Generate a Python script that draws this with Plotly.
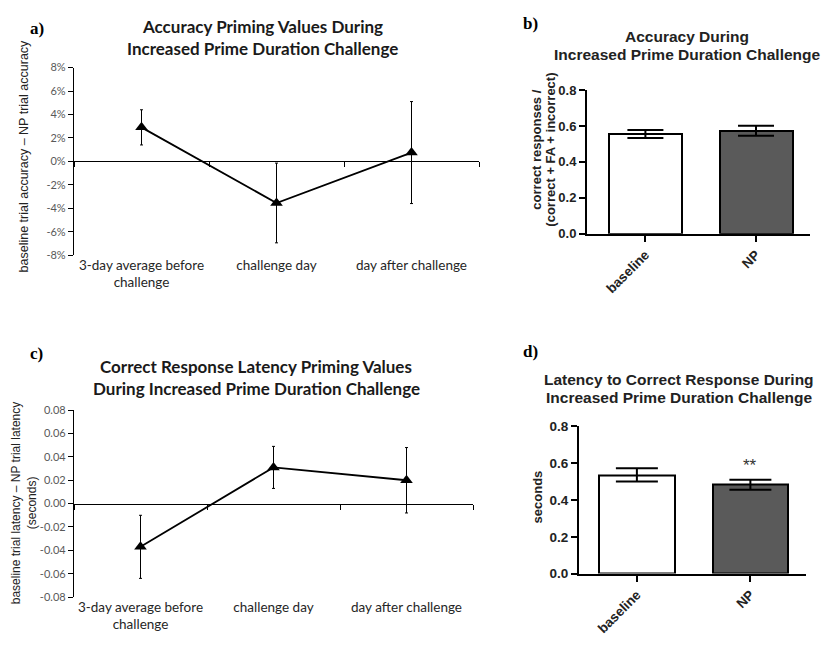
import plotly.graph_objects as go

# ---- data -------------------------------------------------------------
days = ["3-day average before<br>challenge", "challenge day", "day after challenge"]

acc_priming = [2.9, -3.55, 0.75]          # % (baseline - NP)
acc_priming_err = [1.5, 3.4, 4.35]

lat_priming = [-0.037, 0.031, 0.020]      # seconds (baseline - NP)
lat_priming_err = [0.027, 0.018, 0.028]

groups = ["baseline", "NP"]
acc_ratio = [0.555, 0.573]
acc_ratio_err = [0.022, 0.028]
latency = [0.536, 0.483]
latency_err = [0.036, 0.027]

pct_ticks = [-8, -6, -4, -2, 0, 2, 4, 6, 8]
pct_labels = ["-8%", "-6%", "-4%", "-2%", "0%", "2%", "4%", "6%", "8%"]
sec_ticks = [-0.08, -0.06, -0.04, -0.02, 0.0, 0.02, 0.04, 0.06, 0.08]
sec_labels = ["-0.08", "-0.06", "-0.04", "-0.02", "0.00", "0.02", "0.04", "0.06", "0.08"]
bar_ticks = [0.0, 0.2, 0.4, 0.6, 0.8]
bar_labels = ["0.0", "0.2", "0.4", "0.6", "0.8"]

# ---- styling ----------------------------------------------------------
W, H = 825, 650
EXCEL_FONT = "Lato, Open Sans, sans-serif"
ARIAL = "Arial, Liberation Sans, sans-serif"
TIMES = "Times New Roman, Liberation Serif, serif"
GRAY_TXT = "#595959"
DARK_BAR = "#5a5a5a"


def px_x(x):
    return x / W


def px_y(y):
    return 1 - y / H


fig = go.Figure()

# ---- line panels (a, c) -------------------------------------------------
for xa, ya, vals, errs in (("x", "y", acc_priming, acc_priming_err),
                           ("x3", "y3", lat_priming, lat_priming_err)):
    fig.add_trace(go.Scatter(
        x=[0, 1, 2], y=vals, mode="lines+markers",
        line=dict(color="black", width=1.8),
        marker=dict(symbol="triangle-up", size=11, color="black"),
        error_y=dict(type="data", array=errs, color="black", thickness=1, width=1.5),
        xaxis=xa, yaxis=ya, showlegend=False))

# invisible companions so the zero-crossing category axes get drawn
fig.add_trace(go.Scatter(x=[0, 1, 2], y=acc_priming, mode="markers", marker=dict(opacity=0),
                         hoverinfo="skip", xaxis="x5", yaxis="y", showlegend=False))
fig.add_trace(go.Scatter(x=[0, 1, 2], y=lat_priming, mode="markers", marker=dict(opacity=0),
                         hoverinfo="skip", xaxis="x6", yaxis="y3", showlegend=False))

# ---- bar panels (b, d) ------------------------------------------------
fig.add_trace(go.Bar(
    x=[0, 1], y=acc_ratio, width=0.66,
    marker=dict(color=["white", DARK_BAR], line=dict(color="black", width=2)),
    error_y=dict(type="data", array=acc_ratio_err, color="black", thickness=2, width=18),
    xaxis="x2", yaxis="y2", showlegend=False))

fig.add_trace(go.Bar(
    x=[0, 1], y=latency, width=0.666,
    marker=dict(color=["white", DARK_BAR], line=dict(color="black", width=2)),
    error_y=dict(type="data", array=latency_err, color="black", thickness=2, width=21),
    xaxis="x4", yaxis="y4", showlegend=False))

# ---- axes -------------------------------------------------------------
a_dom_y = [px_y(254), px_y(62)]
c_dom_y = [px_y(604), px_y(412.7)]

line_x_common = dict(range=[-0.5, 2.5], showline=False, ticks="", tickvals=[0, 1, 2],
                     ticktext=days, tickfont=dict(family=EXCEL_FONT, size=13.5, color="#262626"),
                     showgrid=False, zeroline=False, fixedrange=True)
zero_x_common = dict(range=[-0.5, 2.5], showline=True, linecolor="black", linewidth=1.2,
                     ticks="outside", ticklen=5, tickcolor="black", tickwidth=1,
                     tickvals=[-0.5, 0.5, 1.5, 2.5], showticklabels=False,
                     showgrid=False, zeroline=False, anchor="free")
line_y_common = dict(showline=True, linecolor="black", linewidth=1.2, ticks="outside", ticklen=5,
                     tickcolor="black", tickfont=dict(family=EXCEL_FONT, size=11, color=GRAY_TXT),
                     showgrid=False, zeroline=False)
bar_axis_common = dict(showline=True, linecolor="black", linewidth=2, ticks="outside", ticklen=6,
                       tickwidth=2, tickcolor="black", showgrid=False, zeroline=False)

fig.update_layout(
    xaxis=dict(domain=[px_x(74), px_x(479)], anchor="y", **line_x_common),
    yaxis=dict(domain=a_dom_y, range=[-8, 8], anchor="x", tickvals=pct_ticks, ticktext=pct_labels,
               **line_y_common),
    xaxis5=dict(domain=[px_x(74), px_x(479)], overlaying="x",
                position=(a_dom_y[0] + a_dom_y[1]) / 2, **zero_x_common),
    xaxis3=dict(domain=[px_x(74), px_x(473)], anchor="y3", **line_x_common),
    yaxis3=dict(domain=c_dom_y, range=[-0.08, 0.08], anchor="x3", tickvals=sec_ticks,
                ticktext=sec_labels, **line_y_common),
    xaxis6=dict(domain=[px_x(74), px_x(473)], overlaying="x3",
                position=(c_dom_y[0] + c_dom_y[1]) / 2, **zero_x_common),
    xaxis2=dict(domain=[px_x(587), px_x(810)], anchor="y2", range=[-0.528, 1.488],
                tickvals=[0, 1], ticktext=["<b>%s</b>" % g for g in groups], tickangle=-45,
                tickfont=dict(family=ARIAL, size=13.5, color="#222"), **bar_axis_common),
    yaxis2=dict(domain=[px_y(232), px_y(85)], anchor="x2", range=[0, 0.8],
                tickvals=bar_ticks, ticktext=["<b>%s</b>" % t for t in bar_labels],
                tickfont=dict(family=ARIAL, size=13, color="#222"), **bar_axis_common),
    xaxis4=dict(domain=[px_x(579), px_x(806)], anchor="y4", range=[-0.51, 1.49],
                tickvals=[0, 1], ticktext=["<b>%s</b>" % g for g in groups], tickangle=-45,
                tickfont=dict(family=ARIAL, size=13.5, color="#222"), **bar_axis_common),
    yaxis4=dict(domain=[px_y(580), px_y(429.3)], anchor="x4", range=[0, 0.8],
                tickvals=bar_ticks, ticktext=["<b>%s</b>" % t for t in bar_labels],
                tickfont=dict(family=ARIAL, size=13.5, color="#222"), **bar_axis_common),
)

# ---- text -------------------------------------------------------------
def note(text, x, y, font, size, color="black", angle=0, xanchor="center"):
    fig.add_annotation(text=text, x=px_x(x), y=px_y(y), xref="paper", yref="paper",
                       showarrow=False, textangle=angle, xanchor=xanchor, yanchor="middle",
                       font=dict(family=font, size=size, color=color))


# panel letters
note("<b>a)</b>", 28, 22, TIMES, 17, xanchor="left")
note("<b>b)</b>", 521, 17, TIMES, 17, xanchor="left")
note("<b>c)</b>", 28, 355, TIMES, 17, xanchor="left")
note("<b>d)</b>", 521, 353, TIMES, 17, xanchor="left")

# titles
note("<b>Accuracy Priming Values During</b>", 262, 20, EXCEL_FONT, 17, "#1a1a1a")
note("<b>Increased Prime Duration Challenge</b>", 262, 42, EXCEL_FONT, 17, "#1a1a1a")
note("<b>Correct Response Latency Priming Values</b>", 256, 368, EXCEL_FONT, 17, "#1a1a1a")
note("<b>During Increased Prime Duration Challenge</b>", 256, 391, EXCEL_FONT, 17, "#1a1a1a")
note("<b>Accuracy During</b>", 687, 30, ARIAL, 15.5, "#222")
note("<b>Increased Prime Duration Challenge</b>", 687, 48.5, ARIAL, 15.5, "#222")
note("<b>Latency to Correct Response During</b>", 679, 381, ARIAL, 15.5, "#222")
note("<b>Increased Prime Duration Challenge</b>", 679, 399.5, ARIAL, 15.5, "#222")

# axis titles
note("baseline trial accuracy \u2013 NP trial accuracy", 24, 153, ARIAL, 12.5, "#222", angle=-90)
note("baseline trial latency \u2013 NP trial latency", 16, 508, ARIAL, 12, "#222", angle=-90)
note("(seconds)", 32, 508, ARIAL, 12, "#222", angle=-90)
note("<b>correct responses /</b>", 537, 146, ARIAL, 13, "#222", angle=-90)
note("<b>(correct + FA + incorrect)</b>", 551, 146, ARIAL, 13, "#222", angle=-90)
note("<b>seconds</b>", 537, 502, ARIAL, 13, "#222", angle=-90)

# significance marker over NP latency bar
fig.add_annotation(text="**", x=1, y=0.59, xref="x4", yref="y4", showarrow=False,
                   font=dict(family=ARIAL, size=17, color="#333"), yanchor="middle")

fig.update_layout(width=W, height=H, margin=dict(l=0, r=0, t=0, b=0),
                  paper_bgcolor="white", plot_bgcolor="white", bargap=0)

fig.write_html("out.html")
